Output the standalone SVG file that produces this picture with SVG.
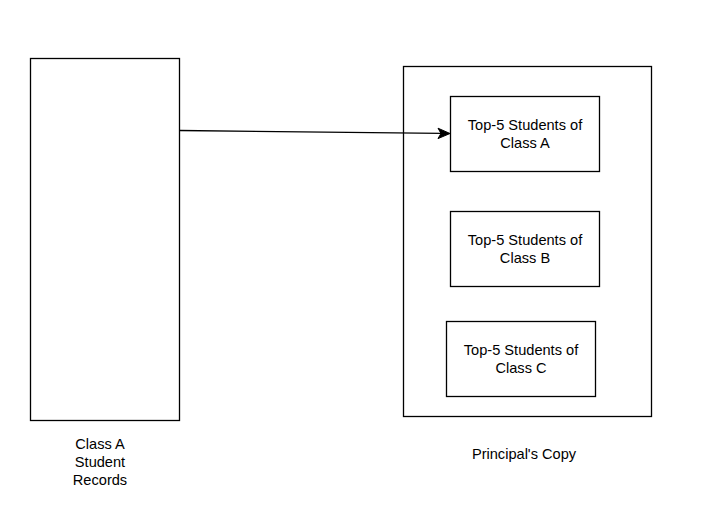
<svg xmlns="http://www.w3.org/2000/svg" width="720" height="519" viewBox="0 0 720 519">
<style>
.box{fill:#fff;stroke:#000;stroke-width:1.3}
.t{font-family:"Liberation Sans",Arial,sans-serif;font-size:14.6px;fill:#000;text-anchor:middle}
.edge{fill:none;stroke:#000;stroke-width:1.3}
</style>
<rect width="720" height="519" fill="#fff"/>
<g id="class-a-records">
<rect class="box" x="30.5" y="58.5" width="149" height="362"/>
<text class="t" x="100" y="449">Class A</text>
<text class="t" x="100" y="467">Student</text>
<text class="t" x="100" y="485">Records</text>
</g>
<g id="principals-copy">
<rect class="box" x="403.5" y="66.5" width="248" height="350"/>
<text class="t" x="524" y="459">Principal's Copy</text>
</g>
<g id="top5-a">
<rect class="box" x="450.5" y="96.5" width="149" height="75"/>
<text class="t" x="525" y="130">Top-5 Students of</text>
<text class="t" x="525" y="147.6">Class A</text>
</g>
<g id="top5-b">
<rect class="box" x="450.5" y="211.5" width="149" height="75"/>
<text class="t" x="525" y="245">Top-5 Students of</text>
<text class="t" x="525" y="262.6">Class B</text>
</g>
<g id="top5-c">
<rect class="box" x="446.5" y="321.5" width="149" height="75"/>
<text class="t" x="521" y="355">Top-5 Students of</text>
<text class="t" x="521" y="372.6">Class C</text>
</g>
<g id="connectors">
<path class="edge" d="M180 130.5 L442 133.3"/>
<path d="M450 133.5 L438 128.2 L441 133.4 L438 138.6 Z" fill="#000" stroke="#000" stroke-width="1"/>
</g>
</svg>
